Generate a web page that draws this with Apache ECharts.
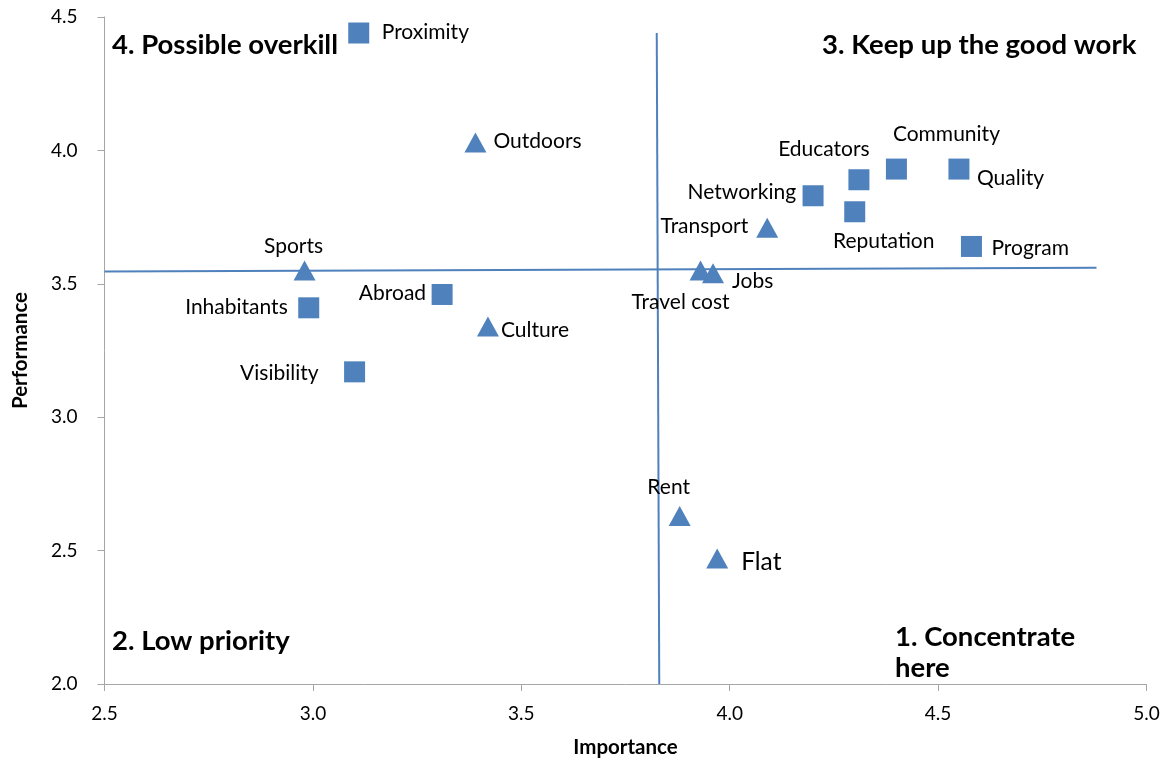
<!DOCTYPE html>
<html>
<head>
<meta charset="utf-8">
<script src="https://cdn.jsdelivr.net/npm/echarts@6/dist/echarts.min.js"></script>
<style>
  html, body { margin: 0; padding: 0; background: #fff; }
  #main { width: 1174px; height: 763px; }
</style>
</head>
<body>
<div id="main"></div>
<script>
// data
var squareNames = ['Proximity', 'Inhabitants', 'Abroad', 'Visibility', 'Networking', 'Educators', 'Community', 'Quality', 'Reputation', 'Program'];
var squareX = [3.11, 2.99, 3.31, 3.10, 4.20, 4.31, 4.40, 4.55, 4.30, 4.58];
var squareY = [4.44, 3.41, 3.46, 3.17, 3.83, 3.89, 3.93, 3.93, 3.77, 3.64];

var triangleNames = ['Outdoors', 'Sports', 'Culture', 'Rent', 'Flat', 'Transport', 'Travel cost', 'Jobs'];
var triangleX = [3.39, 2.98, 3.42, 3.88, 3.97, 4.09, 3.93, 3.96];
var triangleY = [4.03, 3.55, 3.34, 2.63, 2.47, 3.71, 3.55, 3.54];

// quadrant divider lines
var vLineX = [3.825, 3.831];
var vLineY = [4.44, 2.0];
var hLineX = [2.5, 4.88];
var hLineY = [3.546, 3.560];

var xTicks = [2.5, 3.0, 3.5, 4.0, 4.5, 5.0];
var yTicks = [2.0, 2.5, 3.0, 3.5, 4.0, 4.5];

var FONT = 'Lato';
var BLUE = '#4f81bd';

// label placement: [align, dx, dy] relative to marker centre
var labelPlace = {
  'Proximity':   ['left', 23, -1],
  'Inhabitants': ['right', -21, -1],
  'Abroad':      ['right', -16, -1],
  'Visibility':  ['right', -36, 1],
  'Networking':  ['right', -17, -4],
  'Educators':   ['center', -35, -31],
  'Community':   ['center', 50, -35],
  'Quality':     ['left', 18, 9],
  'Reputation':  ['center', 29, 29],
  'Program':     ['left', 20, 2],
  'Outdoors':    ['left', 18, -1],
  'Sports':      ['center', -11, -24],
  'Culture':     ['left', 13, 4],
  'Rent':        ['center', -11, -29],
  'Flat':        ['left', 24, 3],
  'Transport':   ['right', -19, -2],
  'Travel cost': ['center', -20, 32],
  'Jobs':        ['left', 19, 8]
};

function points(names, xs, ys) {
  return names.map(function (n, i) {
    var p = labelPlace[n];
    return {
      name: n,
      value: [xs[i], ys[i]],
      label: {
        show: true,
        position: 'inside',
        formatter: '{b}',
        align: p[0],
        verticalAlign: 'middle',
        offset: [p[1], p[2]],
        fontSize: n === 'Flat' ? 24.5 : 21
      }
    };
  });
}

function pairs(xs, ys) {
  return xs.map(function (x, i) { return [x, ys[i]]; });
}

var TITLE_FONT = 'bold 27.5px Lato';

var myChart = echarts.init(document.getElementById('main'));
var option = {
  animation: false,
  grid: { left: 104.5, right: 27.5, top: 17, bottom: 79, outerBoundsMode: 'none', containLabel: false },
  xAxis: {
    type: 'value',
    min: xTicks[0], max: xTicks[xTicks.length - 1], interval: 0.5,
    name: 'Importance',
    nameLocation: 'middle',
    nameGap: 53,
    nameTextStyle: { fontFamily: FONT, fontWeight: 'bold', fontSize: 20.5, color: '#000' },
    splitLine: { show: false },
    axisLine: { lineStyle: { color: '#a6a6a6', width: 1 } },
    axisTick: { show: true, length: 7, lineStyle: { color: '#a6a6a6' } },
    axisLabel: {
      margin: 20, color: '#000', fontFamily: FONT, fontSize: 19,
      formatter: function (v) { return v.toFixed(1); }
    }
  },
  yAxis: {
    type: 'value',
    min: yTicks[0], max: yTicks[yTicks.length - 1], interval: 0.5,
    name: 'Performance',
    nameLocation: 'middle',
    nameGap: 74,
    nameTextStyle: { fontFamily: FONT, fontWeight: 'bold', fontSize: 20.5, color: '#000' },
    splitLine: { show: false },
    axisLine: { show: true, lineStyle: { color: '#a6a6a6', width: 1 } },
    axisTick: { show: true, length: 7, lineStyle: { color: '#a6a6a6' } },
    axisLabel: {
      margin: 27, color: '#000', fontFamily: FONT, fontSize: 19,
      formatter: function (v) { return v.toFixed(1); }
    }
  },
  graphic: [
    { type: 'text', x: 112, y: 45, style: { text: '4. Possible overkill', font: TITLE_FONT, fill: '#000', verticalAlign: 'middle' } },
    { type: 'text', x: 822, y: 45, style: { text: '3. Keep up the good work', font: TITLE_FONT, fill: '#000', verticalAlign: 'middle' } },
    { type: 'text', x: 112, y: 641, style: { text: '2. Low priority', font: TITLE_FONT, fill: '#000', verticalAlign: 'middle' } },
    { type: 'text', x: 895, y: 653, style: { text: '1. Concentrate\nhere', font: TITLE_FONT, lineHeight: 31, fill: '#000', verticalAlign: 'middle' } }
  ],
  series: [
    {
      type: 'line', data: pairs(vLineX, vLineY), symbol: 'none', z: 1,
      lineStyle: { color: BLUE, width: 2 }, silent: true
    },
    {
      type: 'line', data: pairs(hLineX, hLineY), symbol: 'none', z: 1,
      lineStyle: { color: BLUE, width: 2 }, silent: true
    },
    {
      type: 'scatter', symbol: 'rect', symbolSize: 21, z: 3,
      itemStyle: { color: BLUE, opacity: 1 },
      label: { color: '#000', fontFamily: FONT },
      data: points(squareNames, squareX, squareY)
    },
    {
      type: 'scatter', symbol: 'triangle', symbolSize: [22, 20], z: 3,
      itemStyle: { color: BLUE, opacity: 1 },
      label: { color: '#000', fontFamily: FONT },
      data: points(triangleNames, triangleX, triangleY)
    }
  ]
};
myChart.setOption(option);
window.onresize = myChart.resize;
</script>
</body>
</html>
